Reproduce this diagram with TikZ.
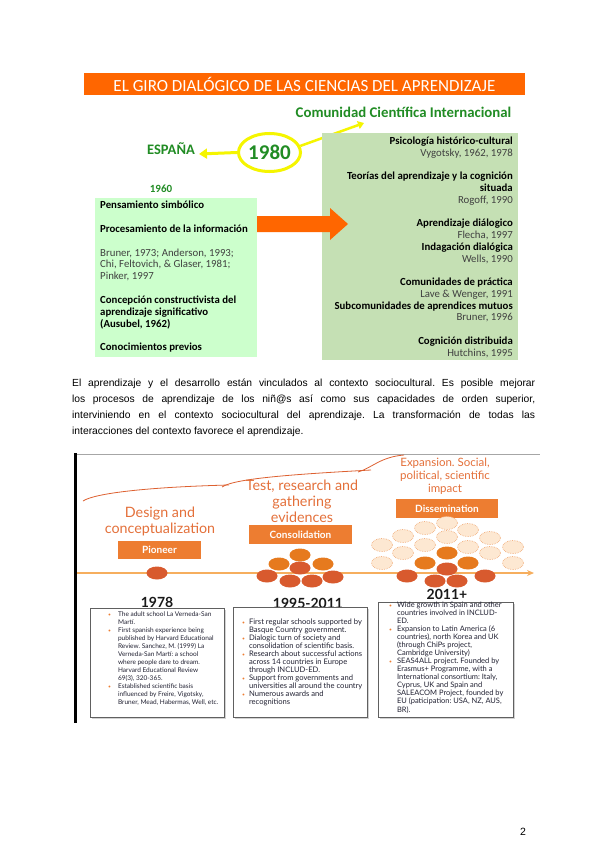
\documentclass[tikz,border=0pt]{standalone}
\usepackage{fontspec}
\setmainfont{Carlito}
\newfontfamily\arialf{Liberation Sans}
\newfontfamily\gillf{Lato}
\usetikzlibrary{arrows.meta,shapes.geometric}
\definecolor{banner}{HTML}{FF6600}
\definecolor{tgreen}{HTML}{218C24}
\definecolor{lgreen}{HTML}{CCFFCC}
\definecolor{rgreen}{HTML}{C5E0B4}
\definecolor{yel}{HTML}{F5F500}
\definecolor{dgray}{HTML}{404040}
\definecolor{darkor}{HTML}{D85A2E}
\definecolor{medor}{HTML}{E67A1E}
\definecolor{paleor}{HTML}{FDE8D2}
\definecolor{paleedge}{HTML}{F2B282}
\definecolor{boxor}{HTML}{ED7D31}
\definecolor{txtor}{HTML}{E4703A}
\definecolor{tline}{HTML}{F6AE5E}
\definecolor{curvec}{HTML}{DD6030}
\definecolor{boxtxt}{HTML}{222233}
\newcommand{\mybul}{\textcolor{boxor}{\fontsize{5}{8}\selectfont•}}
\frenchspacing
\tikzset{
  lbl/.style={inner sep=0},
  boxtext/.style={anchor=north west, inner sep=0, text=boxtxt, font=\gillf\fontsize{7.4}{8}\selectfont},
  orbox/.style={fill=boxor, inner sep=0, text=white, font=\gillf\bfseries\fontsize{10}{11}\selectfont},
  txbox/.style={draw=gray!75!black, line width=0.6pt, fill=white, inner sep=0},
  year/.style={inner sep=0, text=black!90, font=\gillf\bfseries\fontsize{14}{16}\selectfont},
  dk/.style={fill=darkor},
  md/.style={fill=medor},
  pl/.style={fill=paleor, draw=paleedge, densely dotted, line width=0.7pt},
}
\begin{document}
\begin{tikzpicture}[x=1pt,y=-1pt]
\useasboundingbox (0,0) rectangle (600,848);
\fill[white] (0,0) rectangle (600,848);

% ---------- top diagram ----------
\node[fill=banner, minimum width=441pt, minimum height=22pt, inner sep=0, text=white, font=\fontsize{17}{18}\selectfont] (banner) at (304.5,84) {EL GIRO DIALÓGICO DE LAS CIENCIAS DEL APRENDIZAJE};

\node[lbl, text=tgreen, font=\bfseries\fontsize{14.8}{16}\selectfont] (comunidad) at (403.5,112) {Comunidad Científica Internacional};
\node[lbl, text=tgreen, font=\bfseries\fontsize{14.5}{16}\selectfont] (espana) at (171,149) {ESPAÑA};
\node[draw=yel, line width=3pt, ellipse, minimum width=62pt, minimum height=38pt, inner sep=0, text=tgreen, font=\bfseries\fontsize{21}{24}\selectfont] (e1980) at (269.5,152.5) {1980};
\coordinate (espTip) at (199,154);
\coordinate (comTip) at (364,123);
\draw[yel, line width=3pt, -{Triangle[length=8pt,width=10pt]}] (e1980.west) -- (espTip);
\draw[yel, line width=2.5pt, -{Triangle[length=6pt,width=8pt]}] (e1980.12) -- (comTip);

\node[lbl, text=tgreen, font=\bfseries\fontsize{11}{12}\selectfont] (y1960) at (161,189) {1960};

\node[fill=rgreen, minimum width=196pt, minimum height=227pt, inner sep=0] (rbox) at (420,246.5) {};
\node[fill=lgreen, minimum width=162pt, minimum height=159pt, inner sep=0] (lbox) at (176,277.5) {};
\fill[banner] (257,216) -- (330,216) -- (330,208) -- (348,224) -- (330,240) -- (330,232) -- (257,232) -- cycle;

\node[anchor=north west, inner sep=0, align=left, font=\fontsize{10.8}{11.83}\selectfont] (ltext) at (100,201)
{\textbf{Pensamiento simbólico}\\[11.83pt]
\textbf{Procesamiento de la información}\\[11.83pt]
{\color{dgray}Bruner, 1973; Anderson, 1993;}\\
{\color{dgray}Chi, Feltovich, \& Glaser, 1981;}\\
{\color{dgray}Pinker, 1997}\\[11.83pt]
\textbf{Concepción constructivista del}\\
\textbf{aprendizaje significativo}\\
\textbf{(Ausubel, 1962)}\\[11.83pt]
\textbf{Conocimientos previos}};

\node[anchor=north east, inner sep=0, align=right, font=\fontsize{10.8}{11.78}\selectfont] (rtext) at (513,136.5)
{\textbf{Psicología histórico-cultural}\\
{\color{dgray}Vygotsky, 1962, 1978}\\[11.78pt]
\textbf{Teorías del aprendizaje y la cognición}\\
\textbf{situada}\\
{\color{dgray}Rogoff, 1990}\\[11.78pt]
\textbf{Aprendizaje diálogico}\\
{\color{dgray}Flecha, 1997}\\
\textbf{Indagación dialógica}\\
{\color{dgray}Wells, 1990}\\[11.78pt]
\textbf{Comunidades de práctica}\\
{\color{dgray}Lave \& Wenger, 1991}\\
\textbf{Subcomunidades de aprendices mutuos}\\
{\color{dgray}Bruner, 1996}\\[11.78pt]
\textbf{Cognición distribuida}\\
{\color{dgray}Hutchins, 1995}};

% ---------- paragraph ----------
\node[anchor=north west, inner sep=0, text width=463pt, align=justify, font=\arialf\fontsize{10.3}{16}\selectfont] (para) at (72,379)
{El aprendizaje y el desarrollo están vinculados al contexto sociocultural. Es posible mejorar\linebreak
los procesos de aprendizaje de los niñ@s así como sus capacidades de orden superior,\linebreak
interviniendo en el contexto sociocultural del aprendizaje. La transformación de todas las\linebreak
interacciones del contexto favorece el aprendizaje.};

% ---------- bottom figure ----------
\draw[gray!70, line width=0.6pt] (75,454) -- (540,454);
\draw[black, line width=3pt] (75.5,453) -- (75.5,723);

\draw[curvec, line width=0.8pt] (83,501) .. controls (95,493) and (150,487) .. (229,485);
\draw[curvec, line width=0.8pt] (222,487) .. controls (235,478) and (300,474) .. (371,470);
\draw[curvec, line width=0.8pt] (358,472) .. controls (372,468) and (380,457) .. (404,455);

\node[lbl, text=txtor, align=center, font=\gillf\fontsize{14.3}{16}\selectfont] (design) at (160,521) {Design and\\conceptualization};
\node[lbl, text=txtor, align=center, font=\gillf\fontsize{14.3}{16}\selectfont] (test) at (302,501) {Test, research and\\gathering\\evidences};
\node[lbl, text=txtor, align=center, font=\gillf\fontsize{11.5}{13}\selectfont] (expansion) at (445,476) {Expansion. Social,\\political, scientific\\impact};

\node[orbox, minimum width=83pt, minimum height=18pt] (pioneer) at (159.5,550) {Pioneer};
\node[orbox, minimum width=103pt, minimum height=19pt] (consol) at (300.5,534.5) {Consolidation};
\node[orbox, minimum width=102pt, minimum height=19pt] (dissem) at (447,508.5) {Dissemination};

% pale circles
\foreach \x/\y in {447/523,425/528,468/530,403/536,447/537,490/538,382/545,425/545,468/547,513/547,403/553,490/553,382/563,513/563}
  \path[pl] (\x,\y) ellipse [x radius=10.5pt, y radius=6.5pt];

\coordinate (tl0) at (77,573);
\coordinate (tl1) at (534,573);
\draw[tline, line width=1.5pt, -{Stealth[length=7pt,width=6pt]}] (tl0) -- (tl1);

% solid circles
\foreach \x/\y in {300/555,279/564,323/564,425/563,468/563,447/553}
  \path[md] (\x,\y) ellipse [x radius=10.5pt, y radius=6.5pt];
\foreach \x/\y in {157/573,300/568,267/576,333/577,290/581,312/581,447/569,407/576,435/581,457/581,485/576}
  \path[dk] (\x,\y) ellipse [x radius=10.5pt, y radius=6.5pt];

\node[year] (y1978) at (157,602) {1978};
\node[year] (y1995) at (308,603) {1995-2011};
\node[year] (y2011) at (447,594.5) {2011+};

% text boxes with shadows
\fill[gray!35] (91.5,609.5) rectangle (225.5,718.5);
\fill[gray!35] (234.5,608.5) rectangle (368.5,718.5);
\fill[gray!35] (379.5,603.5) rectangle (514.5,718.5);
\node[txbox, minimum width=134pt, minimum height=109pt] (box1) at (157,662.5) {};
\node[txbox, minimum width=134pt, minimum height=110pt] (box2) at (300,662) {};
\node[txbox, minimum width=135pt, minimum height=115pt] (box3) at (445.5,659.5) {};

\node[boxtext, font=\gillf\fontsize{6.5}{8}\selectfont] (t1) at (108,610.4) {\begin{tabular}{@{}l@{\hspace{7pt}}l@{}}
\mybul & The adult school La Verneda-San\\
 & Martí.\\
\mybul & First spanish experience being\\
 & published by Harvard Educational\\
 & Review. Sanchez, M. (1999) La\\
 & Verneda-San Martí: a school\\
 & where people dare to dream.\\
 & Harvard Educational Review\\
 & 69(3), 320-365.\\
\mybul & Established scientific basis\\
 & influenced by Freire, Vigotsky,\\
 & Bruner, Mead, Habermas, Well, etc.
\end{tabular}};

\node[boxtext, font=\gillf\fontsize{7.6}{8}\selectfont] (t2) at (242,618.4) {\begin{tabular}{@{}l@{\hspace{4pt}}l@{}}
\mybul & First regular schools supported by\\
 & Basque Country government.\\
\mybul & Dialogic turn of society and\\
 & consolidation of scientific basis.\\
\mybul & Research about successful actions\\
 & across 14 countries in Europe\\
 & through INCLUD-ED.\\
\mybul & Support from governments and\\
 & universities all around the country\\
\mybul & Numerous awards and\\
 & recognitions
\end{tabular}};

\node[boxtext, font=\gillf\fontsize{7.5}{7.95}\selectfont] (t3) at (389,601.5) {\begin{tabular}{@{}l@{\hspace{5pt}}l@{}}
\mybul & Wide growth in Spain and other\\
 & countries involved in INCLUD-\\
 & ED.\\
\mybul & Expansion to Latin America (6\\
 & countries), north Korea and UK\\
 & (through ChiPs project,\\
 & Cambridge University)\\
\mybul & SEAS4ALL project. Founded by\\
 & Erasmus+ Programme, with a\\
 & International consortium: Italy,\\
 & Cyprus, UK and Spain and\\
 & SALEACOM Project, founded by\\
 & EU (paticipation: USA, NZ, AUS,\\
 & BR).
\end{tabular}};

\node[lbl, font=\arialf\fontsize{10.5}{12}\selectfont] (pnum) at (523,832) {2};
\end{tikzpicture}
\end{document}
